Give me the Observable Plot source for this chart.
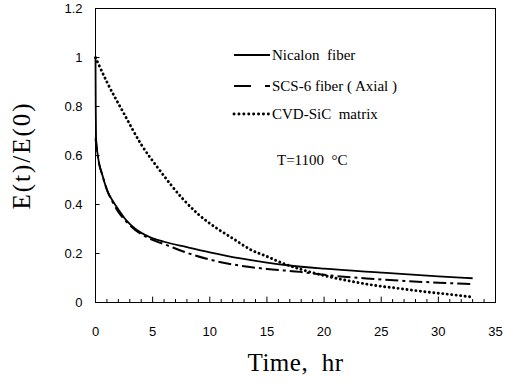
<!DOCTYPE html>
<html><head><meta charset="utf-8">
<script src="https://cdn.jsdelivr.net/npm/d3@7"></script>
<script src="https://cdn.jsdelivr.net/npm/@observablehq/plot@0.6"></script>
<style>
body{margin:0;background:#fff}
#chart svg{background:#fff}
#chart svg text{white-space:pre}
g[aria-label="y-axis label"] text, g[aria-label="x-axis label"] text{font-family:"Liberation Serif",serif;}
</style>
</head><body><div id="chart"></div>
<script>
// Nicalon fiber
const tNic = [0, 0.02, 0.05, 0.2, 0.6, 1.0, 1.5, 2.0, 2.7, 3.5, 4.7, 6.0, 8.0, 10.0, 12.7, 15.0, 16.8, 20.0, 25.0, 30.0, 33.0];
const eNic = [1.0, 0.8, 0.67, 0.6, 0.52, 0.46, 0.415, 0.38, 0.335, 0.3, 0.268, 0.248, 0.226, 0.205, 0.18, 0.163, 0.152, 0.138, 0.122, 0.107, 0.099];
// SCS-6 fiber (Axial)
const tScs = [0, 0.3, 0.6, 1.0, 1.5, 2.0, 2.7, 3.5, 4.7, 6.3, 8.0, 10.0, 12.7, 15.0, 17.9, 20.0, 23.7, 27.0, 30.0, 33.0];
const eScs = [0.67, 0.57, 0.52, 0.46, 0.41, 0.37, 0.33, 0.295, 0.262, 0.233, 0.203, 0.175, 0.15, 0.137, 0.125, 0.113, 0.098, 0.088, 0.081, 0.075];
// CVD-SiC matrix
const tCvd = [0, 1, 2.5, 4, 5.5, 7.7, 9, 10.7, 12, 13.6, 15, 16.4, 18, 20, 22, 24, 26.6, 29, 31, 33];
const eCvd = [1.0, 0.9, 0.77, 0.645, 0.547, 0.42, 0.36, 0.3, 0.262, 0.215, 0.188, 0.16, 0.135, 0.11, 0.09, 0.073, 0.057, 0.043, 0.033, 0.022];

const xTicks = [0, 5, 10, 15, 20, 25, 30, 35];
const xMinor = d3.range(1, 35).filter(d => d % 5 !== 0);
const yTicks = [0, 0.2, 0.4, 0.6, 0.8, 1, 1.2];

const series = [
  {name: "Nicalon  fiber", t: tNic, e: eNic, dash: null, width: 1.8, cap: "butt"},
  {name: "SCS-6 fiber ( Axial )", t: tScs, e: eScs, dash: "13,4,3,4", width: 2, cap: "butt"},
  {name: "CVD-SiC  matrix", t: tCvd, e: eCvd, dash: "0.1,4.4", width: 2.9, cap: "round"}
];

const lineMarks = series.map(s => Plot.line(s.t.map((t, i) => ({t, e: s.e[i]})), {
  x: "t", y: "e", curve: "monotone-x", stroke: "#000", strokeWidth: s.width,
  strokeDasharray: s.dash, strokeLinecap: s.cap
}));

const plot = Plot.plot({
  width: 507, height: 382,
  marginLeft: 95, marginRight: 12, marginTop: 8, marginBottom: 80,
  style: {fontFamily: "'Liberation Sans', Arial, sans-serif", fontSize: "12px", color: "#000", background: "#fff"},
  x: {domain: [0, 35]},
  y: {domain: [0, 1.2]},
  marks: [
    Plot.frame({stroke: "#000", strokeWidth: 1}),
    Plot.ruleX(xTicks, {x: d => d, y1: 0, y2: 0.022, stroke: "#000"}),
    Plot.ruleX(xMinor, {x: d => d, y1: 0, y2: 0.012, stroke: "#000"}),
    Plot.ruleY(yTicks, {y: d => d, x1: 0, x2: 0.4, stroke: "#000"}),
    Plot.axisX({ticks: xTicks, tickSize: 0, tickPadding: 24, tickFormat: d => String(d), fontSize: 13,
      label: "Time,  hr", labelAnchor: "center", labelArrow: "none", labelOffset: 68}),
    Plot.axisY({ticks: yTicks, tickSize: 0, tickPadding: 13, tickFormat: d => String(d), fontSize: 13,
      label: "E(t)/E(0)", labelAnchor: "center", labelArrow: "none", labelOffset: 83}),
    ...lineMarks
  ]
});
document.getElementById("chart").appendChild(plot);

// axis title fonts
d3.select(plot).selectAll('g[aria-label="y-axis label"] text').style("font-size", "25px").style("letter-spacing", "2px");
d3.select(plot).selectAll('g[aria-label="x-axis label"] text').style("font-size", "25px").style("letter-spacing", "0.5px");

// Legend and annotation (inside plot area)
const svg = d3.select(plot);
const lg = svg.append("g").attr("font-family", "'Liberation Serif', serif").attr("font-size", "15px").attr("text-anchor", "start");
const ys = [55, 86, 114];
const legDash = [null, "17,14,5,100", "0.1,4.8"];
series.forEach((s, i) => {
  lg.append("line").attr("x1", 234).attr("x2", 270).attr("y1", ys[i]).attr("y2", ys[i])
    .attr("stroke", "#000").attr("stroke-width", s.width)
    .attr("stroke-dasharray", legDash[i])
    .attr("stroke-linecap", s.cap);
  lg.append("text").attr("x", 272).attr("y", ys[i]).attr("dy", "0.33em").text(s.name);
});
lg.append("text").attr("x", 277).attr("y", 160).attr("dy", "0.33em").text("T=1100  °C");
</script>
</body></html>
